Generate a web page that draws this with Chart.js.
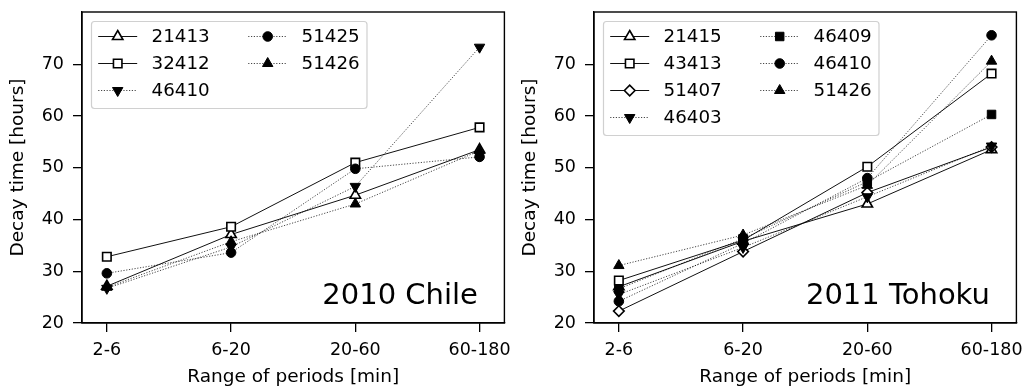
<!DOCTYPE html>
<html><head><meta charset="utf-8">
<script src="https://cdn.jsdelivr.net/npm/chart.js@4.4.1/dist/chart.umd.min.js"></script>
<style>
html,body{margin:0;padding:0;background:#fff;}
#wrap{position:relative;width:1027px;height:388px;overflow:hidden;background:#fff;}
canvas{position:absolute;top:0;}
#c1{left:0}
#c2{left:512px}
</style></head><body>
<div id="wrap"><canvas id="c1" width="512" height="388"></canvas><canvas id="c2" width="512" height="388"></canvas></div>
<script>
// ---- data ----
const categories = ['2-6', '6-20', '20-60', '60-180'];
const yTickValues = [20, 30, 40, 50, 60, 70];

// 2010 Chile
const chileTitle = '2010 Chile';
const chile21413 = [27.1, 37.1, 44.7, 53.5];
const chile32412 = [32.8, 38.6, 51.0, 57.8];
const chile46410 = [26.7, 34.7, 46.4, 73.3];
const chile51425 = [29.6, 33.6, 49.8, 52.1];
const chile51426 = [26.9, 35.7, 43.0, 53.3];

// 2011 Tohoku
const tohokuTitle = '2011 Tohoku';
const tohoku21415 = [27.0, 35.8, 43.0, 53.5];
const tohoku43413 = [28.2, 36.0, 50.2, 68.2];
const tohoku51407 = [22.3, 33.8, 45.2, 54.0];
const tohoku46403 = [25.5, 34.6, 44.4, 54.2];
const tohoku46409 = [26.6, 36.3, 47.3, 60.3];
const tohoku46410 = [24.2, 35.4, 48.0, 75.6];
const tohoku51426 = [31.1, 37.0, 46.6, 70.6];

// ---- styles ----
const FONT = 'DejaVu Sans';
const MARK = {
  openTriangle: {pointStyle: 'triangle', rotation: 0, fill: '#ffffff', solid: true, radius: 6},
  openSquare:   {pointStyle: 'rect', rotation: 0, fill: '#ffffff', solid: true, radius: 6},
  openDiamond:  {pointStyle: 'rectRot', rotation: 0, fill: '#ffffff', solid: true, radius: 5.3},
  downTriangle: {pointStyle: 'triangle', rotation: 180, fill: '#000000', solid: false, radius: 6},
  square:       {pointStyle: 'rect', rotation: 0, fill: '#000000', solid: false, radius: 6},
  circle:       {pointStyle: 'circle', rotation: 0, fill: '#000000', solid: false, radius: 4.8},
  triangle:     {pointStyle: 'triangle', rotation: 0, fill: '#000000', solid: false, radius: 6}
};

function makeDataset(label, values, markKey, i, n) {
  const m = MARK[markKey];
  return {
    label: label,
    data: values.map((v, k) => ({x: k, y: v})),
    borderColor: m.solid ? '#111' : 'rgba(0,0,0,0.8)',
    borderWidth: m.solid ? 1 : 0.9,
    borderDash: m.solid ? [] : [1.2, 1.6],
    pointStyle: m.pointStyle,
    pointRotation: m.rotation,
    pointRadius: m.radius,
    pointBackgroundColor: m.fill,
    pointBorderColor: '#000',
    pointBorderWidth: m.solid ? 1.6 : 1,
    tension: 0,
    fill: false,
    clip: false,
    order: n - i,
    _mark: markKey
  };
}

const framePlugin = {
  id: 'frameAndLegend',
  afterDraw(chart, args, opts) {
    const ctx = chart.ctx;
    const a = chart.chartArea;
    ctx.save();
    // annotation text
    ctx.font = '29px "' + FONT + '"';
    ctx.fillStyle = '#000';
    ctx.textAlign = 'right';
    ctx.textBaseline = 'alphabetic';
    ctx.fillText(opts.annotation, a.right - 26.5, a.bottom - 19.5);
    // frame
    ctx.strokeStyle = '#000';
    ctx.lineWidth = 1.4;
    ctx.strokeRect(a.left, a.top, a.right - a.left, a.bottom - a.top);
    // legend
    const ds = chart.data.datasets;
    const nRows = Math.ceil(ds.length / 2);
    const bx = a.left + 9.5, by = a.top + 9.5;
    const rowH = 27, bw = 275.5, bh = 15 + (nRows - 1) * rowH + 18;
    ctx.beginPath();
    if (ctx.roundRect) ctx.roundRect(bx, by, bw, bh, 3); else ctx.rect(bx, by, bw, bh);
    ctx.fillStyle = 'rgba(255,255,255,0.85)';
    ctx.fill();
    ctx.strokeStyle = '#d0d0d0';
    ctx.lineWidth = 1.2;
    ctx.stroke();
    ds.forEach((d, i) => {
      const col = i < nRows ? 0 : 1;
      const row = i < nRows ? i : i - nRows;
      const x0 = bx + 6.7 + col * 150;
      const y0 = by + 15 + row * rowH;
      const m = MARK[d._mark];
      ctx.save();
      ctx.strokeStyle = d.borderColor;
      ctx.lineWidth = d.borderWidth;
      ctx.setLineDash(d.borderDash);
      ctx.beginPath();
      ctx.moveTo(x0, y0);
      ctx.lineTo(x0 + 39, y0);
      ctx.stroke();
      ctx.restore();
      ctx.save();
      ctx.fillStyle = m.fill;
      ctx.strokeStyle = '#000';
      ctx.lineWidth = d.pointBorderWidth;
      Chart.helpers.drawPoint(ctx, {pointStyle: m.pointStyle, rotation: m.rotation, radius: m.radius, borderWidth: d.pointBorderWidth}, x0 + 19.5, y0);
      ctx.restore();
      ctx.fillStyle = '#000';
      ctx.font = '18.3px "' + FONT + '"';
      ctx.textAlign = 'left';
      ctx.textBaseline = 'middle';
      ctx.fillText(d.label, x0 + 53.3, y0 + 1);
    });
    ctx.restore();
  }
};

function makeChart(id, datasets, annotation) {
  const tickFont = {family: FONT, size: 17.5};
  const titleFont = {family: FONT, size: 18.5};
  const gridOpts = {drawOnChartArea: false, drawTicks: true, tickLength: 9, color: '#000', lineWidth: 1.3};
  return new Chart(document.getElementById(id), {
    type: 'line',
    data: {datasets: datasets},
    plugins: [framePlugin],
    options: {
      responsive: false,
      animation: false,
      events: [],
      layout: {padding: {top: 12, right: 4, left: 0, bottom: 0}},
      plugins: {legend: {display: false}, tooltip: {enabled: false}, frameAndLegend: {annotation: annotation}},
      scales: {
        x: {
          type: 'linear', min: -0.2, max: 3.2,
          afterBuildTicks: s => { s.ticks = categories.map((c, i) => ({value: i})); },
          afterFit: s => { s.height = 65; s.paddingLeft = 0; s.paddingRight = 0; },
          ticks: {callback: v => categories[v], font: tickFont, color: '#000', padding: 8, maxRotation: 0, autoSkip: false},
          grid: gridOpts,
          border: {display: true, color: '#000', width: 1.3},
          title: {display: true, text: 'Range of periods [min]', font: titleFont, color: '#000', padding: {top: 0, bottom: 0}}
        },
        y: {
          type: 'linear', min: 20, max: 80.1,
          afterBuildTicks: s => { s.ticks = yTickValues.map(v => ({value: v})); },
          afterFit: s => { s.width = 82; s.paddingTop = 0; s.paddingBottom = 0; },
          ticks: {font: tickFont, color: '#000', padding: 9},
          grid: gridOpts,
          border: {display: true, color: '#000', width: 1.3},
          title: {display: true, text: 'Decay time [hours]', font: titleFont, color: '#000', padding: {top: 7, bottom: 0}}
        }
      }
    }
  });
}

const chileSets = [
  ['21413', chile21413, 'openTriangle'],
  ['32412', chile32412, 'openSquare'],
  ['46410', chile46410, 'downTriangle'],
  ['51425', chile51425, 'circle'],
  ['51426', chile51426, 'triangle']
];
const tohokuSets = [
  ['21415', tohoku21415, 'openTriangle'],
  ['43413', tohoku43413, 'openSquare'],
  ['51407', tohoku51407, 'openDiamond'],
  ['46403', tohoku46403, 'downTriangle'],
  ['46409', tohoku46409, 'square'],
  ['46410', tohoku46410, 'circle'],
  ['51426', tohoku51426, 'triangle']
];

makeChart('c1', chileSets.map((s, i) => makeDataset(s[0], s[1], s[2], i, chileSets.length)), chileTitle);
makeChart('c2', tohokuSets.map((s, i) => makeDataset(s[0], s[1], s[2], i, tohokuSets.length)), tohokuTitle);
</script>
</body></html>
